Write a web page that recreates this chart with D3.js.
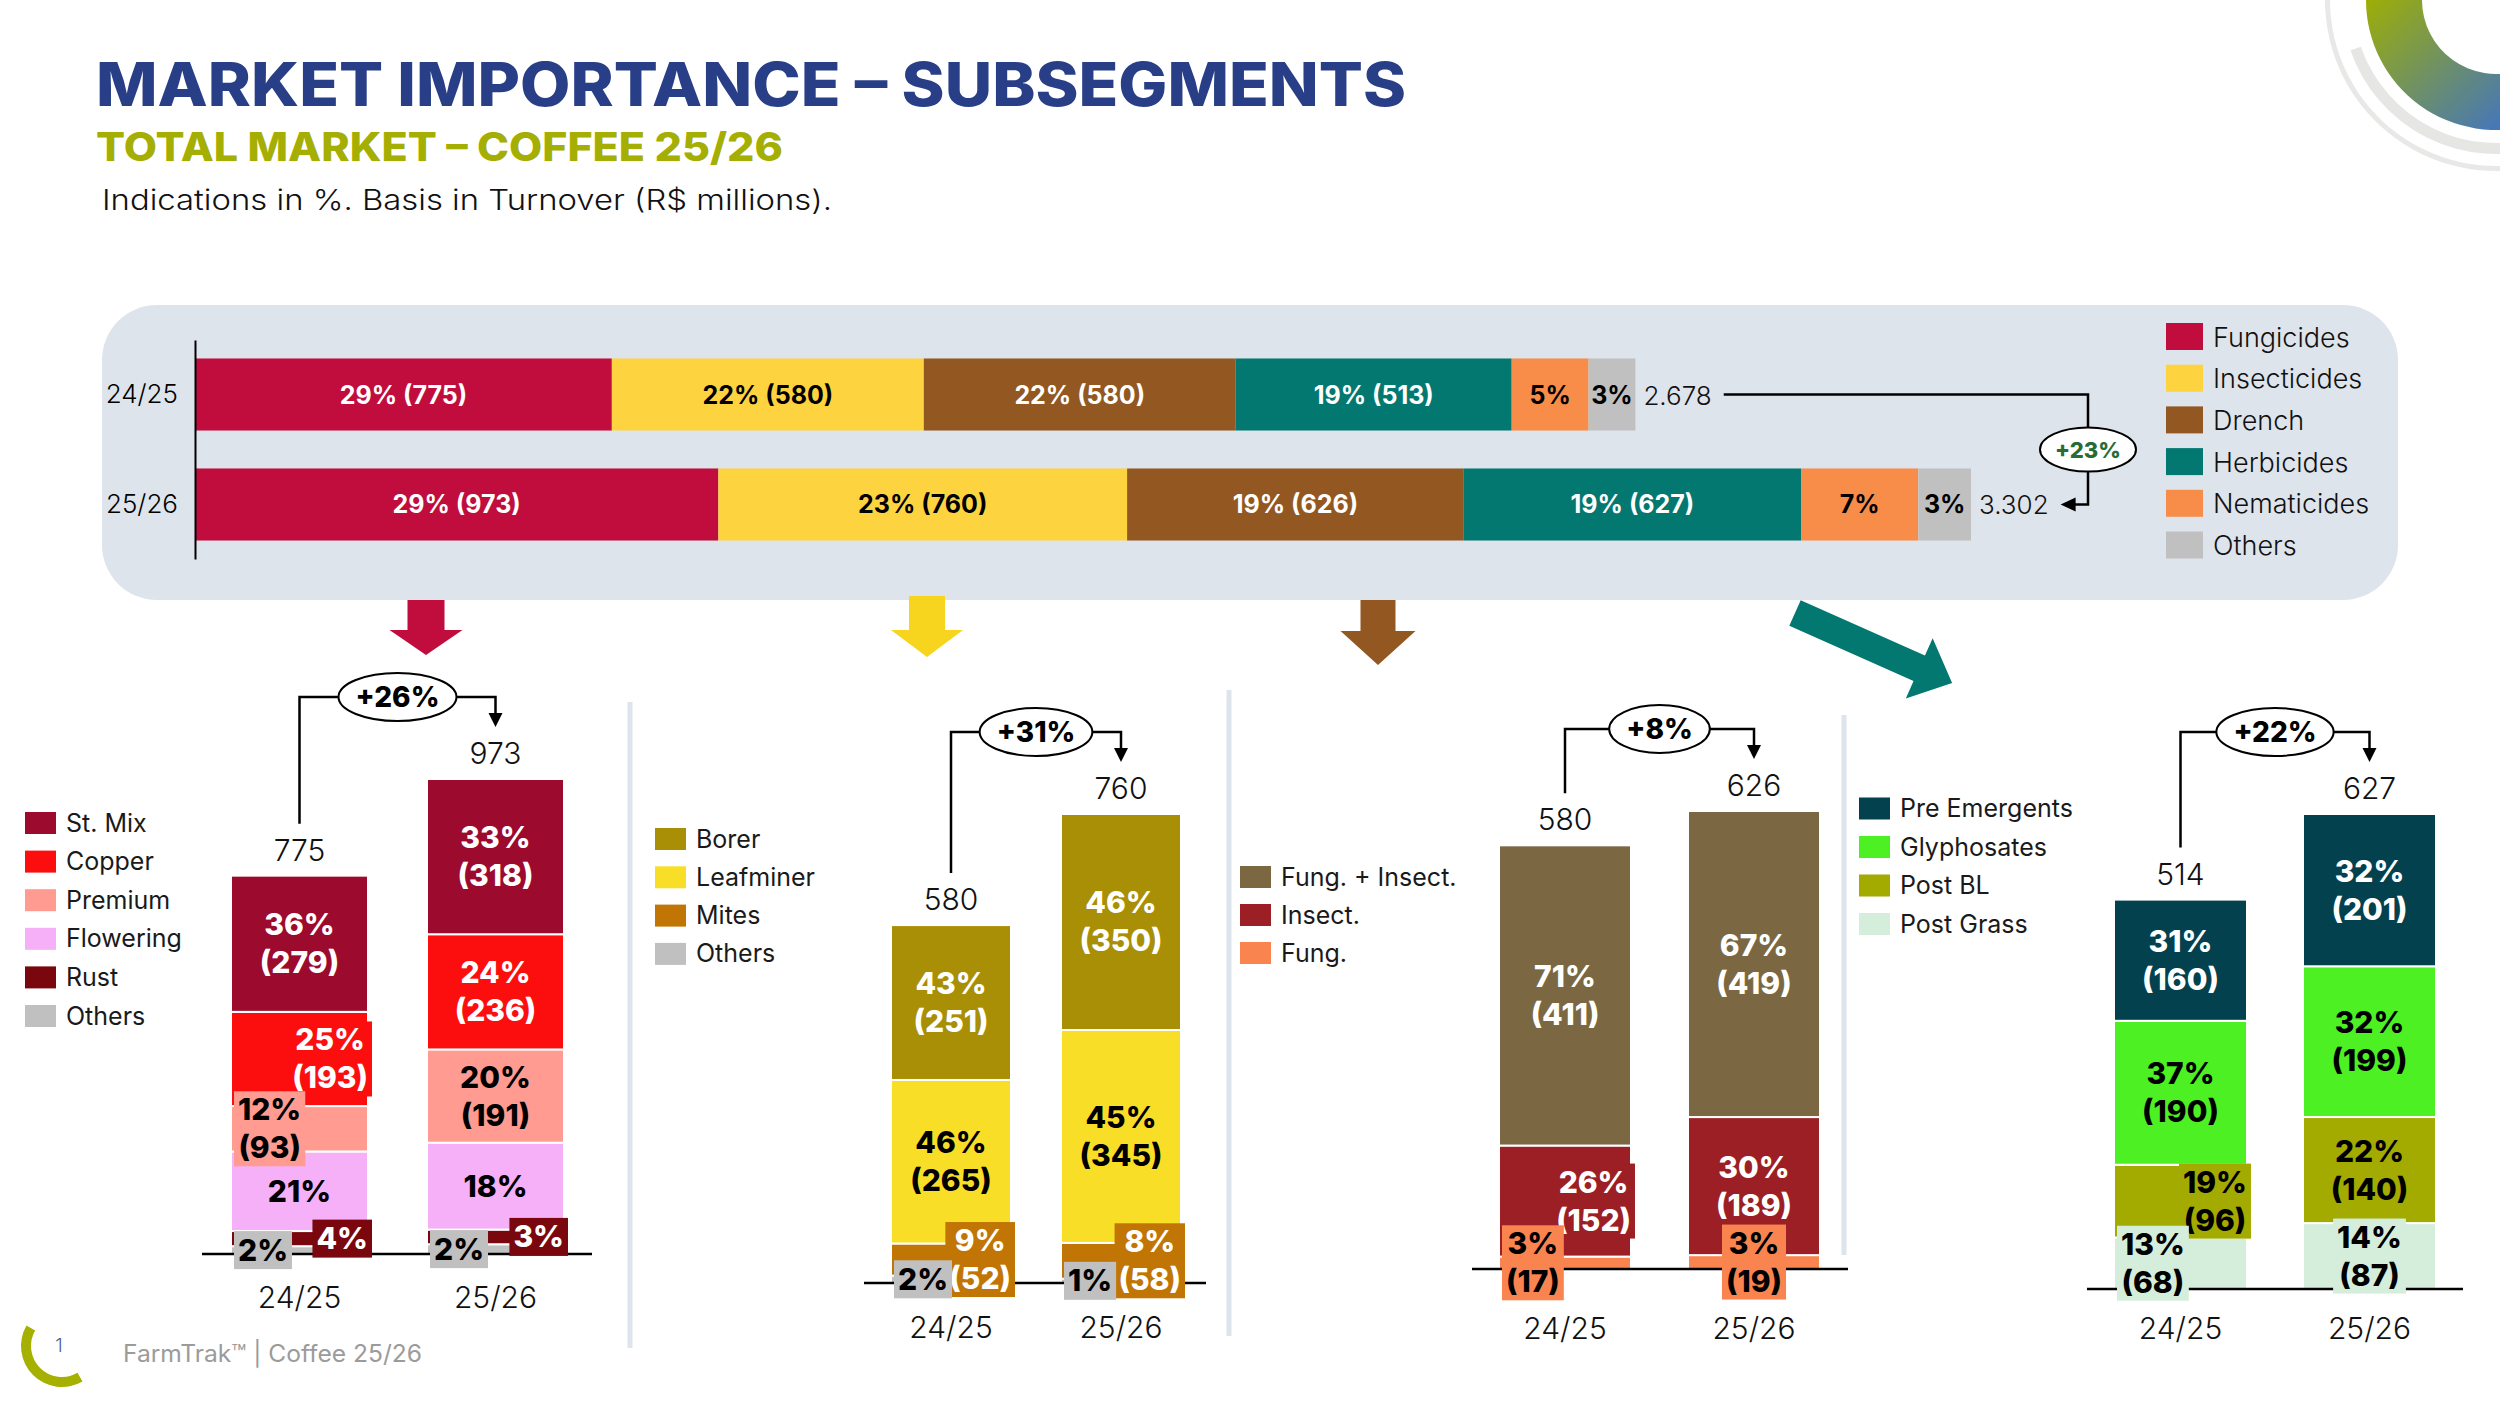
<!DOCTYPE html>
<html>
<head>
<meta charset="utf-8">
<script src="https://cdn.jsdelivr.net/npm/d3@7"></script>
<style>
  body { margin: 0; background: #fff; }
  svg { display: block; font-family: Inter, "Noto Sans", sans-serif; }
</style>
</head>
<body>
<script>
// Seasons shown on every chart.
const years = ["24/25", "25/26"];

// Total market by segment (R$ millions).
const segments = ["Fungicides", "Insecticides", "Drench", "Herbicides", "Nematicides", "Others"];
const segment2425 = [775, 580, 580, 513, 143, 87];
const segment2526 = [973, 760, 626, 627, 218, 98];
const marketTotals = [2678, 3302];

// Fungicides subsegments.
const fungSeries = ["St. Mix", "Copper", "Premium", "Flowering", "Rust", "Others"];
const fung2425 = [279, 193, 93, 163, 31, 16];
const fung2526 = [318, 236, 191, 178, 30, 20];
const fungTotals = [775, 973];

// Insecticides subsegments.
const insectSeries = ["Borer", "Leafminer", "Mites", "Others"];
const insect2425 = [251, 265, 52, 12];
const insect2526 = [350, 345, 58, 7];
const insectTotals = [580, 760];

// Drench subsegments.
const drenchSeries = ["Fung. + Insect.", "Insect.", "Fung."];
const drench2425 = [411, 152, 17];
const drench2526 = [419, 189, 19];
const drenchTotals = [580, 626];

// Herbicides subsegments.
const herbSeries = ["Pre Emergents", "Glyphosates", "Post BL", "Post Grass"];
const herb2425 = [160, 190, 96, 68];
const herb2526 = [201, 199, 140, 87];
const herbTotals = [514, 627];

// Colours.
const segmentColors = ["#C00D3D", "#FDD33F", "#935822", "#037870", "#F78D48", "#C0C0C0"];
const segmentInk = ["#fff", "#000", "#fff", "#fff", "#000", "#000"];
const fungColors = ["#9C0A2E", "#FD0E0E", "#FF9B90", "#F6B0F7", "#79070D", "#C0C0C0"];
const fungInk = ["#fff", "#fff", "#000", "#000", "#fff", "#000"];
const insectColors = ["#A98F05", "#F8DE27", "#C17504", "#C0C0C0"];
const insectInk = ["#fff", "#000", "#fff", "#000"];
const drenchColors = ["#7B6842", "#9B1F24", "#FA844F"];
const drenchInk = ["#fff", "#fff", "#000"];
const herbColors = ["#03414E", "#4DF023", "#A3AA00", "#D4EEDB"];
const herbInk = ["#fff", "#000", "#000", "#000"];

const fmt = d3.formatLocale({ decimal: ",", thousands: ".", grouping: [3], currency: ["R$", ""] }).format(",");
const pct = (v, t) => Math.round(v / t * 100) + "%";
const growth = t => "+" + Math.round((t[1] / t[0] - 1) * 100) + "%";

const svg = d3.select("body").append("svg").attr("width", 2500).attr("height", 1406);

// ---- Decoration, top right corner
const defs = svg.append("defs");
const grad = defs.append("linearGradient").attr("id", "ringGrad")
  .attr("gradientUnits", "userSpaceOnUse")
  .attr("x1", -130).attr("y1", 0).attr("x2", 0).attr("y2", 130);
grad.append("stop").attr("offset", 0).attr("stop-color", "#9DAE06");
grad.append("stop").attr("offset", 1).attr("stop-color", "#4677B8");
const deco = svg.append("g").attr("transform", "translate(2496,0)");
deco.append("path").attr("fill", "#E8E8E6")
  .attr("d", d3.arc()({ innerRadius: 166, outerRadius: 171, startAngle: Math.PI * 0.9, endAngle: Math.PI * 1.5 }));
deco.append("path").attr("fill", "#E6E6E4")
  .attr("d", d3.arc()({ innerRadius: 143, outerRadius: 154, startAngle: Math.PI * 0.9, endAngle: 4.38 }));
deco.append("path").attr("fill", "url(#ringGrad)")
  .attr("d", d3.arc()({ innerRadius: 74, outerRadius: 130, startAngle: Math.PI * 0.9, endAngle: Math.PI * 1.5 }));

// ---- Titles
svg.append("text").attr("x", 96).attr("y", 106)
  .attr("font-size", 60).attr("font-weight", 800).attr("fill", "#283F87")
  .attr("textLength", 1310).attr("lengthAdjust", "spacingAndGlyphs")
  .text("MARKET IMPORTANCE – SUBSEGMENTS");
svg.append("text").attr("x", 96).attr("y", 161)
  .attr("font-size", 39).attr("font-weight", 800).attr("fill", "#A5AE02")
  .attr("textLength", 687).attr("lengthAdjust", "spacingAndGlyphs")
  .text("TOTAL MARKET – COFFEE 25/26");
svg.append("text").attr("x", 102).attr("y", 210)
  .attr("font-size", 28).attr("font-weight", 300).attr("fill", "#111")
  .attr("textLength", 730).attr("lengthAdjust", "spacingAndGlyphs")
  .text("Indications in %. Basis in Turnover (R$ millions).");

// ---- Top panel: total market
svg.append("rect").attr("x", 102).attr("y", 305).attr("width", 2296).attr("height", 295)
  .attr("rx", 55).attr("fill", "#DEE4EC");

const yTop = d3.scaleBand().domain(years).range([340, 559]).paddingInner(0.345).paddingOuter(0.168);
const xTop = d3.scaleLinear().domain([0, d3.max(marketTotals)]).range([195, 1971]);

const topRows = years.map((yr, i) => {
  const vals = i === 0 ? segment2425 : segment2526;
  const r = { year: yr };
  segments.forEach((s, j) => r[s] = vals[j]);
  return r;
});
const topStack = d3.stack().keys(segments)(topRows);

const topG = svg.append("g");
topG.selectAll("g.seg").data(topStack).join("g")
  .attr("class", "seg")
  .attr("fill", (d, i) => segmentColors[i])
  .selectAll("rect").data(d => d).join("rect")
  .attr("x", d => xTop(d[0]))
  .attr("y", d => yTop(d.data.year))
  .attr("width", d => xTop(d[1]) - xTop(d[0]))
  .attr("height", yTop.bandwidth());

topStack.forEach((layer, j) => {
  layer.forEach((d, i) => {
    const v = d.data[segments[j]];
    const label = j < 4 ? `${pct(v, marketTotals[i])} (${v})` : pct(v, marketTotals[i]);
    topG.append("text")
      .attr("x", (xTop(d[0]) + xTop(d[1])) / 2)
      .attr("y", yTop(d.data.year) + yTop.bandwidth() / 2 + 9)
      .attr("text-anchor", "middle")
      .attr("font-size", 25).attr("font-weight", 700)
      .attr("fill", segmentInk[j])
      .text(label);
  });
});

// Year axis of the top panel.
const topAxis = topG.append("g").attr("transform", "translate(195,0)")
  .call(d3.axisLeft(yTop).tickSize(0).tickSizeOuter(0).tickPadding(17));
topAxis.select(".domain").attr("stroke", "#000").attr("stroke-width", 2);
topAxis.selectAll("text").attr("font-size", 26).attr("font-weight", 300).attr("fill", "#000")
  .attr("font-family", "Inter, 'Noto Sans', sans-serif");

// Totals and growth connector.
const totalNodes = marketTotals.map((t, i) => topG.append("text")
  .attr("x", xTop(t) + 8)
  .attr("y", yTop(years[i]) + yTop.bandwidth() / 2 + 10)
  .attr("font-size", 26).attr("font-weight", 300).attr("fill", "#111")
  .text(fmt(t)));
const c1 = yTop(years[0]) + yTop.bandwidth() / 2;
const c2 = yTop(years[1]) + yTop.bandwidth() / 2;
const lineStart = xTop(marketTotals[0]) + 8 + totalNodes[0].node().getComputedTextLength() + 12;
const tipX = xTop(marketTotals[1]) + 8 + totalNodes[1].node().getComputedTextLength() + 12;
const elbowX = 2088;
topG.append("path")
  .attr("d", `M${lineStart},${c1}H${elbowX}V${c2}H${tipX + 14}`)
  .attr("fill", "none").attr("stroke", "#000").attr("stroke-width", 2.5);
topG.append("path")
  .attr("d", `M${tipX},${c2}L${tipX + 15},${c2 - 7}L${tipX + 15},${c2 + 7}Z`).attr("fill", "#000");
const topGrowth = topG.append("g").attr("transform", `translate(${elbowX},${(c1 + c2) / 2})`);
topGrowth.append("ellipse").attr("rx", 48).attr("ry", 22)
  .attr("fill", "#fff").attr("stroke", "#000").attr("stroke-width", 2);
topGrowth.append("text").attr("text-anchor", "middle").attr("y", 8)
  .attr("font-size", 22).attr("font-weight", 800).attr("fill", "#276B35")
  .text(growth(marketTotals));

// Legend of the top panel.
const topLegend = topG.append("g");
segments.forEach((s, i) => {
  const cy = 336.5 + i * 41.7;
  topLegend.append("rect").attr("x", 2166).attr("y", cy - 13.5).attr("width", 37).attr("height", 27)
    .attr("fill", segmentColors[i]);
  topLegend.append("text").attr("x", 2213).attr("y", cy + 10)
    .attr("font-size", 27).attr("font-weight", 300).attr("fill", "#111").text(s);
});

// ---- Arrows from the panel to the subsegment charts
function arrowShape(x, y, angleDeg, len, shaftW, headW, headLen) {
  const a = angleDeg * Math.PI / 180, ux = Math.cos(a), uy = Math.sin(a), px = -uy, py = ux;
  const pt = (t, s) => [x + ux * t + px * s, y + uy * t + py * s];
  const sl = len - headLen;
  return [pt(0, -shaftW / 2), pt(sl, -shaftW / 2), pt(sl, -headW / 2), pt(len, 0),
          pt(sl, headW / 2), pt(sl, shaftW / 2), pt(0, shaftW / 2)]
    .map(p => p.join(",")).join(" ");
}
const arrows = [
  { x: 426, y: 600, a: 90, len: 55, sw: 37, hw: 73, hl: 25, color: segmentColors[0] },
  { x: 927, y: 596, a: 90, len: 61, sw: 36, hw: 72, hl: 27, color: "#F7D51E" },
  { x: 1378, y: 600, a: 90, len: 65, sw: 35, hw: 75, hl: 34, color: segmentColors[2] },
  { x: 1795, y: 613, a: 24, len: 172, sw: 28, hw: 66, hl: 36, color: segmentColors[3] }
];
svg.append("g").selectAll("polygon").data(arrows).join("polygon")
  .attr("points", d => arrowShape(d.x, d.y, d.a, d.len, d.sw, d.hw, d.hl))
  .attr("fill", d => d.color);

// ---- Separators between subsegment charts
const separators = [[630, 702, 1348], [1229, 690, 1336], [1844, 715, 1255]];
svg.append("g").selectAll("line").data(separators).join("line")
  .attr("x1", d => d[0]).attr("x2", d => d[0]).attr("y1", d => d[1]).attr("y2", d => d[2])
  .attr("stroke", "#DEE4EC").attr("stroke-width", 5);

// ---- Subsegment charts
const subCharts = [
  {
    series: fungSeries, colors: fungColors, ink: fungInk, values: [fung2425, fung2526], totals: fungTotals,
    showValue: [true, true, true, false, false, false],
    place: [["c", "R", "L", "c", "R", "L"], ["c", "c", "c", "c", "R", "L"]],
    layout: { x0: 231, x1: 564, barW: 137, base: 1254, top: 779, line: [202, 592], labelY: 1308,
              legendX: 25, legendY: 823, legendStep: 38.6 }
  },
  {
    series: insectSeries, colors: insectColors, ink: insectInk, values: [insect2425, insect2526], totals: insectTotals,
    showValue: [true, true, true, false],
    place: [["c", "c", "R", "L"], ["c", "c", "R", "L"]],
    layout: { x0: 891, x1: 1181, barW: 120, base: 1283, top: 814, line: [864, 1206], labelY: 1338,
              legendX: 655, legendY: 839, legendStep: 38.3 }
  },
  {
    series: drenchSeries, colors: drenchColors, ink: drenchInk, values: [drench2425, drench2526], totals: drenchTotals,
    showValue: [true, true, true],
    place: [["c", "R", "L"], ["c", "c", "C"]],
    layout: { x0: 1499, x1: 1820, barW: 132, base: 1269, top: 811, line: [1472, 1848], labelY: 1339,
              legendX: 1240, legendY: 877, legendStep: 38 }
  },
  {
    series: herbSeries, colors: herbColors, ink: herbInk, values: [herb2425, herb2526], totals: herbTotals,
    showValue: [true, true, true, true],
    place: [["c", "c", "R", "L"], ["c", "c", "c", "C"]],
    layout: { x0: 2114, x1: 2436, barW: 133, base: 1289, top: 814, line: [2087, 2463], labelY: 1339,
              legendX: 1859, legendY: 808.5, legendStep: 38.5 }
  }
];

function drawSubChart(c) {
  const L = c.layout;
  const g = svg.append("g");
  const span = L.x1 - L.x0;
  const x = d3.scaleBand().domain(years).range([L.x0, L.x1])
    .paddingInner((span - 2 * L.barW) / (span - L.barW)).paddingOuter(0);

  const rows = years.map((yr, i) => {
    const r = { year: yr };
    c.series.forEach((s, j) => r[s] = c.values[i][j]);
    return r;
  });
  // Stack from the bottom: the last series sits on the baseline.
  const keys = c.series.slice().reverse();
  const stack = d3.stack().keys(keys)(rows);
  const maxSum = d3.max(rows, r => d3.sum(c.series, s => r[s]));
  const y = d3.scaleLinear().domain([0, maxSum]).range([L.base, L.top]);

  g.selectAll("g.layer").data(stack).join("g")
    .attr("class", "layer")
    .attr("fill", d => c.colors[c.series.indexOf(d.key)])
    .selectAll("rect").data(d => d).join("rect")
    .attr("x", d => x(d.data.year))
    .attr("y", d => y(d[1]))
    .attr("width", x.bandwidth())
    .attr("height", d => y(d[0]) - y(d[1]))
    .attr("stroke", "#fff").attr("stroke-width", 2);

  // Baseline.
  g.append("line").attr("x1", L.line[0]).attr("x2", L.line[1]).attr("y1", L.base).attr("y2", L.base)
    .attr("stroke", "#000").attr("stroke-width", 2.5);

  // Segment labels, drawn from the top segment down.
  years.forEach((yr, i) => {
    const bx = x(yr), bw = x.bandwidth();
    c.series.forEach((s, j) => {
      const layer = stack[keys.indexOf(s)];
      const d = layer[i];
      const v = c.values[i][j];
      const cy = (y(d[0]) + y(d[1])) / 2;
      const lines = c.showValue[j] ? [pct(v, c.totals[i]), `(${v})`] : [pct(v, c.totals[i])];
      const mode = c.place[i][j];
      const lg = g.append("g");
      const texts = lines.map((t, k) => lg.append("text")
        .attr("y", lines.length === 2 ? cy - 8.5 + k * 38 : cy + 10.5)
        .attr("text-anchor", "middle")
        .attr("font-size", 30).attr("font-weight", 800)
        .attr("fill", c.ink[j]).text(t));
      const tw = d3.max(texts, t => t.node().getComputedTextLength());
      let cx = bx + bw / 2;
      if (mode !== "c") {
        const w = tw + 8, h = lines.length === 2 ? 75 : 38;
        let x0 = cx - w / 2;
        if (mode === "R") x0 = bx + bw + 4 - w;
        if (mode === "L") x0 = bx + 3;
        cx = x0 + w / 2;
        lg.insert("rect", "text").attr("x", x0).attr("y", cy - h / 2)
          .attr("width", w).attr("height", h).attr("fill", c.colors[j]);
      }
      texts.forEach(t => t.attr("x", cx));
    });
  });

  // Totals above bars.
  const sums = rows.map(r => d3.sum(c.series, s => r[s]));
  years.forEach((yr, i) => {
    g.append("text").attr("x", x(yr) + x.bandwidth() / 2).attr("y", y(sums[i]) - 15)
      .attr("text-anchor", "middle").attr("font-size", 30).attr("font-weight", 300).attr("fill", "#111")
      .text(c.totals[i]);
  });

  // Growth connector.
  const xa = x(years[0]) + x.bandwidth() / 2, xb = x(years[1]) + x.bandwidth() / 2;
  const tipY = y(sums[1]) - 52, connY = tipY - 30;
  g.append("path").attr("d", `M${xa},${y(sums[0]) - 52}V${connY}H${xb}V${tipY - 12}`)
    .attr("fill", "none").attr("stroke", "#000").attr("stroke-width", 2.5);
  g.append("path").attr("d", `M${xb - 7},${tipY - 14}L${xb + 7},${tipY - 14}L${xb},${tipY}Z`).attr("fill", "#000");
  const og = g.append("g").attr("transform", `translate(${(xa + xb) / 2},${connY})`);
  const gt = og.append("text").attr("text-anchor", "middle").attr("y", 10)
    .attr("font-size", 28).attr("font-weight", 800).attr("fill", "#000").text(growth(c.totals));
  og.insert("ellipse", "text").attr("rx", gt.node().getComputedTextLength() / 2 + 17).attr("ry", 24)
    .attr("fill", "#fff").attr("stroke", "#000").attr("stroke-width", 2);

  // Season labels.
  const ax = g.append("g").attr("transform", `translate(0,${L.base})`)
    .call(d3.axisBottom(x).tickSize(0));
  ax.select(".domain").remove();
  ax.selectAll("text").attr("y", L.labelY - L.base).attr("dy", 0)
    .attr("font-size", 30).attr("font-weight", 300).attr("fill", "#111")
    .attr("font-family", "Inter, 'Noto Sans', sans-serif");

  // Legend.
  c.series.forEach((s, i) => {
    const cy = L.legendY + i * L.legendStep;
    g.append("rect").attr("x", L.legendX).attr("y", cy - 11).attr("width", 31).attr("height", 22)
      .attr("fill", c.colors[i]);
    g.append("text").attr("x", L.legendX + 41).attr("y", cy + 8.5)
      .attr("font-size", 25).attr("font-weight", 400).attr("fill", "#1a1a1a").text(s);
  });
}
subCharts.forEach(drawSubChart);

// ---- Footer
svg.append("path").attr("transform", "translate(62,1346)").attr("fill", "#A6B000")
  .attr("d", d3.arc()({ innerRadius: 31, outerRadius: 41, startAngle: 2.618, endAngle: 5.236 }));
svg.append("text").attr("x", 59).attr("y", 1352).attr("text-anchor", "middle")
  .attr("font-size", 19).attr("font-weight", 300).attr("fill", "#4A5F9A").text("1");
svg.append("text").attr("x", 123).attr("y", 1362)
  .attr("font-size", 24).attr("font-weight", 400).attr("fill", "#9B9B9B")
  .attr("textLength", 299).attr("lengthAdjust", "spacingAndGlyphs")
  .text("FarmTrak™ | Coffee 25/26");
</script>
</body>
</html>
